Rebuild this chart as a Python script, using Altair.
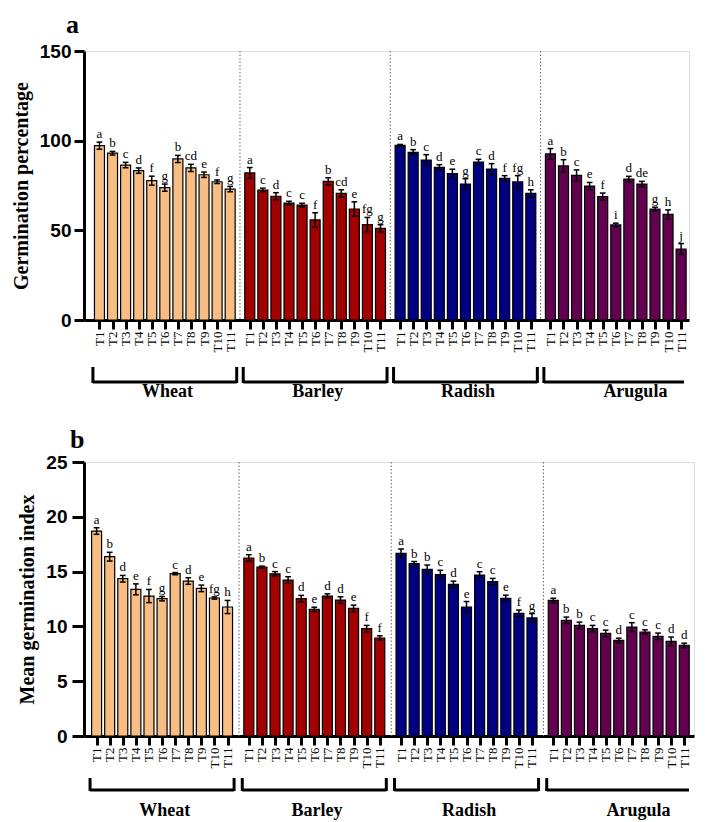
import altair as alt
import pandas as pd

groups = ["Wheat", "Barley", "Radish", "Arugula"]
treatments = [f"T{i}" for i in range(1, 12)]
colors = ["#F7BD82", "#A30000", "#000082", "#640050"]

# Panel a: Germination percentage
gp_vals = [
    [97.2, 93.0, 86.4, 83.3, 77.7, 73.8, 89.8, 84.8, 81.0, 77.1, 73.0],
    [82.0, 72.5, 69.0, 65.2, 64.1, 55.8, 77.3, 70.6, 61.9, 53.2, 51.1],
    [97.4, 93.5, 89.2, 85.1, 81.6, 75.8, 88.1, 84.2, 79.0, 77.0, 70.6],
    [92.6, 85.9, 80.7, 74.7, 68.8, 53.0, 78.6, 75.8, 61.9, 58.9, 39.6],
]
gp_errs = [
    [2.0, 1.0, 1.5, 1.5, 2.5, 2.0, 2.0, 2.0, 1.5, 1.0, 1.5],
    [3.0, 1.0, 2.0, 1.0, 1.0, 4.0, 2.0, 2.0, 4.0, 4.0, 2.0],
    [0.5, 1.5, 3.0, 1.5, 2.5, 3.0, 1.5, 3.0, 1.5, 3.5, 2.0],
    [3.0, 3.5, 3.0, 2.0, 2.0, 1.0, 1.5, 1.5, 1.0, 2.5, 3.0],
]
gp_letters = [
    ["a", "b", "c", "d", "f", "g", "b", "cd", "e", "f", "g"],
    ["a", "c", "d", "c", "c", "f", "b", "cd", "e", "fg", "g"],
    ["a", "b", "c", "d", "e", "g", "c", "d", "f", "fg", "h"],
    ["a", "b", "c", "e", "f", "i", "d", "de", "g", "h", "j"],
]

# Panel b: Mean germination index
mgi_vals = [
    [18.7, 16.36, 14.35, 13.38, 12.77, 12.53, 14.81, 14.14, 13.47, 12.59, 11.77],
    [16.24, 15.4, 14.8, 14.23, 12.53, 11.55, 12.77, 12.4, 11.64, 9.79, 8.94],
    [16.66, 15.72, 15.2, 14.72, 13.83, 11.77, 14.69, 14.08, 12.55, 11.19, 10.77],
    [12.37, 10.55, 10.09, 9.79, 9.36, 8.72, 9.94, 9.49, 9.09, 8.63, 8.27],
]
mgi_errs = [
    [0.3, 0.4, 0.3, 0.5, 0.6, 0.2, 0.1, 0.3, 0.3, 0.1, 0.6],
    [0.3, 0.1, 0.2, 0.3, 0.3, 0.2, 0.2, 0.3, 0.3, 0.3, 0.2],
    [0.4, 0.2, 0.4, 0.4, 0.3, 0.5, 0.3, 0.3, 0.3, 0.3, 0.4],
    [0.2, 0.3, 0.3, 0.3, 0.3, 0.2, 0.4, 0.2, 0.3, 0.4, 0.2],
]
mgi_letters = [
    ["a", "b", "d", "e", "f", "g", "c", "d", "e", "fg", "h"],
    ["a", "b", "c", "c", "d", "e", "d", "d", "e", "f", "f"],
    ["a", "b", "b", "c", "d", "e", "c", "c", "e", "f", "g"],
    ["a", "b", "b", "c", "c", "d", "c", "c", "c", "d", "d"],
]

SERIF = "Liberation Serif, Times New Roman, serif"
SANS = "Liberation Sans, Arial, sans-serif"


def panel(vals, errs, lets, gap, ydom, yticks, ytitle, letter, width, height,
          xdom, title_pad, label_pad, ytick, br_top, br_y, lab_y, title_dx,
          title_off):
    rows = []
    for g, grp in enumerate(groups):
        for i, t in enumerate(treatments):
            v = vals[g][i]
            e = errs[g][i]
            p = g * gap + i
            rows.append(dict(group=grp, t=t, pos=p, v=v, lo=v - e, hi=v + e,
                             lab=lets[g][i], xl=p - 0.22, xr=p + 0.22))
    df = pd.DataFrame(rows)
    br = pd.DataFrame([dict(group=grp, start=g * gap - 0.5, end=g * gap + 10.5,
                            center=g * gap + 5.2) for g, grp in enumerate(groups)])
    ends = pd.concat([
        br[["group", "start"]].rename(columns={"start": "x"}),
        br[["group", "end"]].rename(columns={"end": "x"}),
    ])
    ends = ends[ends.x <= xdom[1]]
    br["end"] = br["end"].clip(upper=xdom[1])
    sep = pd.DataFrame({"x": [g * gap - 0.75 for g in range(1, len(groups))]})

    xscale = alt.Scale(domain=xdom, nice=False, zero=False, clamp=True)
    yscale = alt.Scale(domain=ydom, nice=False)
    xaxis = alt.Axis(
        values=list(df.pos), labelExpr=f"'T' + (round(datum.value % {gap}) + 1)",
        labelAngle=270, labelFont=SERIF, labelFontSize=13, labelColor="black",
        labelPadding=2, tickSize=9, tickWidth=3, tickColor="black",
        domainWidth=3, domainColor="black", grid=False, labelOverlap=False,
        labelFlush=False)
    yaxis = alt.Axis(
        values=yticks, labelFont=SANS, labelFontWeight="bold", labelFontSize=19,
        labelColor="black", labelPadding=label_pad, tickSize=ytick, tickWidth=3,
        tickColor="black", domainWidth=3, domainColor="black", grid=False,
        titleFont=SERIF, titleFontSize=20, titleFontWeight="bold",
        titleColor="black", titlePadding=title_pad)

    def X(f):
        return alt.X(f, scale=xscale, axis=xaxis, title=None)

    def Y(f):
        return alt.Y(f, scale=yscale, axis=yaxis, title=ytitle)

    color = alt.Color("group:N", scale=alt.Scale(domain=groups, range=colors),
                      legend=None)
    base = alt.Chart(df)
    bars = base.mark_bar(size=10, stroke="black", strokeWidth=1.2, clip=True).encode(
        x=X("pos:Q"), y=Y("v:Q"), color=color)
    err = base.mark_rule(color="black", strokeWidth=1.5, clip=True).encode(
        x=X("pos:Q"), y=Y("lo:Q"), y2="hi:Q")
    cap_lo = base.mark_rule(color="black", strokeWidth=1.5, clip=True).encode(
        x=X("xl:Q"), x2="xr:Q", y=Y("lo:Q"))
    cap_hi = base.mark_rule(color="black", strokeWidth=1.5, clip=True).encode(
        x=X("xl:Q"), x2="xr:Q", y=Y("hi:Q"))
    letters = base.mark_text(baseline="bottom", dy=-1, font=SERIF, fontSize=13,
                             color="black", clip=True).encode(
        x=X("pos:Q"), y=Y("hi:Q"), text="lab:N")
    seps = alt.Chart(sep).mark_rule(color="#666666", strokeWidth=1,
                                    strokeDash=[1.5, 2]).encode(
        x=X("x:Q"), y=alt.value(0), y2=alt.value(height))
    br_h = alt.Chart(br).mark_rule(color="black", strokeWidth=3).encode(
        x=X("start:Q"), x2="end:Q", y=alt.value(height + br_y))
    br_v = alt.Chart(ends).mark_rule(color="black", strokeWidth=3).encode(
        x=X("x:Q"), y=alt.value(height + br_top), y2=alt.value(height + br_y + 1))
    glab = alt.Chart(br).transform_calculate(
        lx="datum.group == 'Arugula' ? datum.center + 1.3 : datum.center"
    ).mark_text(font=SERIF, fontSize=18, fontWeight="bold", color="black",
                baseline="middle").encode(
        x=X("lx:Q"), y=alt.value(height + lab_y), text="group:N")

    return alt.layer(seps, bars, err, cap_lo, cap_hi, letters, br_h, br_v, glab).properties(
        width=width, height=height,
        title=alt.TitleParams(letter, anchor="start", frame="group", font=SERIF,
                              fontSize=26, fontWeight="bold", color="black",
                              dx=title_dx, offset=title_off),
    )


pa = panel(gp_vals, gp_errs, gp_letters, 11.5, [0, 150], [0, 50, 100, 150],
           "Germination percentage", "a", 605, 269, [-0.8, 44.72],
           8, 3, 10, 47, 62, 72, -18, 4)
pb = panel(mgi_vals, mgi_errs, mgi_letters, 11.625, [0, 25], [0, 5, 10, 15, 20, 25],
           "Mean germination index", "b", 610, 274, [-0.58, 45.24],
           8, 5, 12, 42, 54, 75, -14, 0)

chart = alt.vconcat(pa, pb, spacing=24).properties(
    padding={"left": 2, "top": 3, "right": 0, "bottom": 0}
).configure_view(stroke=None).configure(background="white")

chart.save("out.html", embed_options={"renderer": "svg", "actions": False})
